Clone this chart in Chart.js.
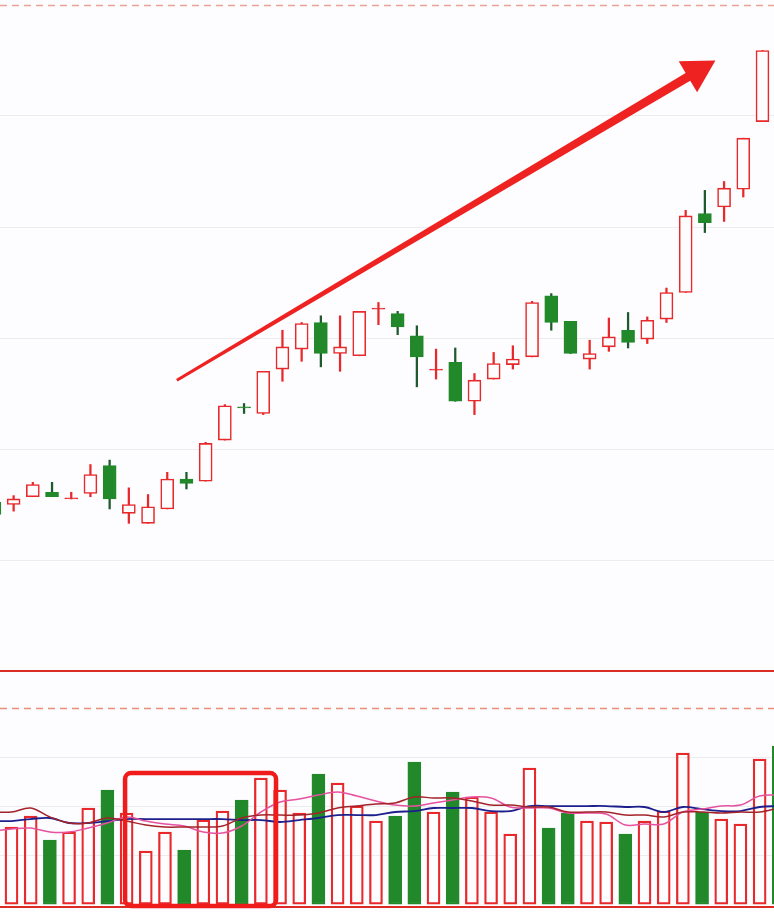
<!DOCTYPE html>
<html>
<head>
<meta charset="utf-8">
<script src="https://cdn.jsdelivr.net/npm/chart.js@4.4.1/dist/chart.umd.min.js"></script>
<style>
  html, body { margin: 0; padding: 0; background: #fdfcfe; }
  #wrap { position: relative; width: 774px; height: 912px; overflow: hidden; }
  canvas { position: absolute; left: 0; }
  #price-chart { top: 0; }
  #volume-chart { top: 676px; }
</style>
</head>
<body>
<div id="wrap">
  <canvas id="price-chart" width="774" height="676"></canvas>
  <canvas id="volume-chart" width="774" height="236"></canvas>
</div>
<script>
// trading sessions (x position of each candle / volume bar)
let days = [0, 1, 2, 3, 4, 5, 6, 7, 8, 9, 10, 11, 12, 13, 14, 15, 16, 17, 18, 19, 20,
  21, 22, 23, 24, 25, 26, 27, 28, 29, 30, 31, 32, 33, 34, 35, 36, 37, 38, 39, 40, 41];

// candles
let openP = [7.52, 7.50, 7.57, 7.61, 7.55, 7.60, 7.85, 7.42, 7.33, 7.46, 7.73, 7.71, 8.08, 8.38,
  8.32, 8.72, 8.90, 9.14, 8.86, 8.84, 9.26, 9.22, 9.02, 8.71, 8.78, 8.43, 8.63, 8.76, 8.83,
  9.38, 9.15, 8.81, 8.92, 9.07, 8.99, 9.17, 9.41, 10.12, 10.18, 10.34, 10.95];
let highP = [7.56, 7.58, 7.70, 7.70, 7.61, 7.86, 7.90, 7.65, 7.59, 7.79, 7.79, 8.06, 8.40, 8.41,
  8.70, 9.07, 9.14, 9.20, 9.20, 9.24, 9.32, 9.24, 9.11, 8.90, 8.91, 8.68, 8.87, 8.93, 9.33,
  9.40, 9.15, 8.98, 9.18, 9.23, 9.19, 9.45, 10.15, 10.33, 10.41, 10.80, 11.59];
let lowP = [7.38, 7.44, 7.57, 7.57, 7.55, 7.57, 7.46, 7.33, 7.33, 7.46, 7.64, 7.71, 8.08, 8.32,
  8.31, 8.61, 8.79, 8.74, 8.70, 8.84, 9.12, 9.03, 8.56, 8.63, 8.43, 8.31, 8.63, 8.72, 8.83,
  9.07, 8.86, 8.72, 8.88, 8.91, 8.95, 9.14, 9.41, 9.95, 10.05, 10.27, 10.95];
let closeP = [7.41, 7.55, 7.68, 7.57, 7.56, 7.77, 7.55, 7.50, 7.48, 7.73, 7.69, 8.05, 8.39, 8.37,
  8.70, 8.92, 9.13, 8.86, 8.92, 9.24, 9.27, 9.10, 8.83, 8.72, 8.43, 8.62, 8.77, 8.81, 9.32,
  9.14, 8.86, 8.86, 9.01, 8.96, 9.16, 9.41, 10.10, 10.04, 10.35, 10.80, 11.59];

// volume + its moving averages
let volume = [null, 7.86, 8.98, 6.53, 7.35, 9.80, 11.63, 9.29, 5.41, 7.35, 5.51, 8.57, 9.49,
  10.61, 12.86, 11.63, 9.29, 13.27, 12.35, 10.00, 8.47, 8.98, 14.49, 9.39, 11.43, 10.92, 9.39,
  7.14, 13.88, 7.76, 9.29, 8.47, 8.37, 7.14, 8.47, 9.49, 15.41, 9.39, 8.67, 8.16, 14.80, 16.12];
let volMa5 = [9.39, 9.39, 9.80, 8.88, 8.27, 8.27, 8.78, 8.47, 8.06, 7.86, 7.86, 7.86, 7.96,
  8.78, 9.08, 9.08, 9.08, 9.29, 9.80, 10.00, 10.20, 10.31, 10.92, 10.82, 10.82, 10.51, 10.10,
  10.10, 9.90, 9.90, 9.39, 9.39, 9.39, 9.08, 9.08, 8.88, 9.39, 9.39, 9.29, 9.39, 9.39, 9.80];
let volMa10 = [7.45, 7.65, 7.76, 7.35, 7.35, 7.76, 8.27, 8.88, 8.47, 8.16, 7.96, 7.35, 7.24,
  7.96, 9.39, 10.41, 10.71, 11.12, 11.43, 11.02, 10.51, 10.10, 10.00, 10.31, 10.61, 10.92,
  10.82, 9.90, 9.80, 9.80, 9.29, 9.29, 9.18, 8.06, 8.16, 8.16, 9.39, 9.69, 10.00, 10.10,
  11.02, 11.12];
let volMa20 = [8.47, 8.47, 8.67, 8.78, 8.27, 8.27, 8.47, 8.67, 8.67, 8.67, 8.67, 8.67, 8.67,
  8.57, 8.57, 8.37, 8.57, 8.78, 9.08, 9.08, 9.08, 9.39, 9.49, 9.80, 9.80, 9.80, 9.49, 9.49,
  10.00, 10.00, 10.00, 10.00, 10.00, 9.90, 9.90, 9.39, 9.90, 9.69, 9.49, 9.49, 9.90, 10.00];

let priceTicks = [7, 8, 9, 10, 11];
let volumeTicks = [5, 10, 15];

const UP = '#e8292b';
const DOWN = '#22892a';
const DOWN_WICK = '#1e5a2c';
const BG = '#fdfcfe';
const GRID = '#ececef';

// the last volume bar has no visible candle -> counts as a down day
const isUp = (i) => closeP[i] >= openP[i];
// doji: body so thin it shows as a plain line, so fill it
const isDoji = (i) => Math.abs(closeP[i] - openP[i]) < 0.02;
let candleDays = days.slice(0, openP.length);

// dashed line on top of a panel, solid red base line
const panelLines = {
  id: 'panelLines',
  afterDatasetsDraw(chart, args, opts) {
    const {ctx, width, scales: {y}} = chart;
    let top = Math.round(y.getPixelForValue(y.max)) + 0.5;
    let bottom = Math.round(y.getPixelForValue(y.min));
    ctx.save();
    ctx.lineWidth = 1.5;
    ctx.strokeStyle = opts.dashColor;
    ctx.setLineDash([7, 5]);
    ctx.beginPath();
    ctx.moveTo(0, top);
    ctx.lineTo(width, top);
    ctx.stroke();
    ctx.setLineDash([]);
    ctx.lineWidth = 2;
    ctx.strokeStyle = opts.baseColor;
    ctx.beginPath();
    ctx.moveTo(0, bottom);
    ctx.lineTo(width, bottom);
    ctx.stroke();
    ctx.restore();
  }
};

// big red trend arrow, ends given in (day, price)
const trendArrow = {
  id: 'trendArrow',
  afterDatasetsDraw(chart) {
    const {ctx, scales: {x, y}} = chart;
    let x0 = x.getPixelForValue(9.5), y0 = y.getPixelForValue(8.62);
    let x1 = x.getPixelForValue(37.55), y1 = y.getPixelForValue(11.5);
    let len = Math.hypot(x1 - x0, y1 - y0);
    let ux = (x1 - x0) / len, uy = (y1 - y0) / len;
    let nx = -uy, ny = ux;
    let headLen = 32, headW = 18;
    let bx = x1 - ux * headLen, by = y1 - uy * headLen;
    ctx.save();
    ctx.fillStyle = '#ee2220';
    ctx.beginPath();
    ctx.moveTo(x0 + nx * 1.5, y0 + ny * 1.5);
    ctx.lineTo(bx + nx * 4.5, by + ny * 4.5);
    ctx.lineTo(bx + nx * headW, by + ny * headW);
    ctx.lineTo(x1, y1);
    ctx.lineTo(bx - nx * headW, by - ny * headW);
    ctx.lineTo(bx - nx * 4.5, by - ny * 4.5);
    ctx.lineTo(x0 - nx * 1.5, y0 - ny * 1.5);
    ctx.closePath();
    ctx.fill();
    ctx.restore();
  }
};

// red box round the low volume days
const volumeBox = {
  id: 'volumeBox',
  afterDatasetsDraw(chart) {
    const {ctx, scales: {x, y}} = chart;
    let left = x.getPixelForValue(6.92), right = x.getPixelForValue(14.79);
    let top = y.getPixelForValue(13.37), bottom = y.getPixelForValue(-0.2);
    ctx.save();
    ctx.strokeStyle = '#f01c1c';
    ctx.lineWidth = 4.5;
    ctx.beginPath();
    ctx.roundRect(left, top, right - left, bottom - top, 6);
    ctx.stroke();
    ctx.restore();
  }
};

let renderPrice = () => {
  new Chart(document.getElementById('price-chart'), {
    type: 'bar',
    data: {
      datasets: [
        {
          label: 'wick',
          data: candleDays.map((d) => ({x: d, y: [lowP[d], highP[d]]})),
          backgroundColor: candleDays.map((d) => isUp(d) ? UP : DOWN_WICK),
          barThickness: 1.6,
          grouped: false,
          order: 2,
        },
        {
          label: 'body',
          data: candleDays.map((d) => ({x: d, y: [openP[d], closeP[d]]})),
          backgroundColor: candleDays.map((d) => isUp(d) ? (isDoji(d) ? UP : BG) : DOWN),
          borderColor: candleDays.map((d) => isUp(d) ? UP : DOWN),
          borderWidth: 1.6,
          borderSkipped: false,
          barThickness: 13,
          grouped: false,
          order: 1,
        },
      ],
    },
    options: {
      responsive: false,
      animation: false,
      layout: {padding: {top: 5, bottom: 5, left: 0, right: 0}},
      plugins: {
        legend: {display: false},
        tooltip: {enabled: false},
        panelLines: {dashColor: '#eba395', baseColor: '#d92d28'},
      },
      scales: {
        x: {type: 'linear', min: 0.29, max: 40.60, offset: false, display: false},
        y: {
          min: 6,
          max: 12,
          afterBuildTicks: (s) => { s.ticks = priceTicks.map((v) => ({value: v})); },
          ticks: {display: false},
          grid: {color: GRID, drawTicks: false},
          border: {display: false},
        },
      },
    },
    plugins: [panelLines, trendArrow],
  });
};

let renderVolume = () => {
  new Chart(document.getElementById('volume-chart'), {
    type: 'bar',
    data: {
      datasets: [
        {
          type: 'line',
          label: 'MA5',
          data: days.map((d) => ({x: d, y: volMa5[d]})),
          borderColor: '#a3232a',
          borderWidth: 1.5,
          pointRadius: 0,
          tension: 0.35,
          order: 0,
        },
        {
          type: 'line',
          label: 'MA10',
          data: days.map((d) => ({x: d, y: volMa10[d]})),
          borderColor: '#e6529f',
          borderWidth: 1.5,
          pointRadius: 0,
          tension: 0.35,
          order: 0,
        },
        {
          type: 'line',
          label: 'MA20',
          data: days.map((d) => ({x: d, y: volMa20[d]})),
          borderColor: '#1c1f8c',
          borderWidth: 1.8,
          pointRadius: 0,
          tension: 0.35,
          order: 0,
        },
        {
          label: 'volume',
          data: days.map((d) => ({x: d, y: volume[d]})),
          backgroundColor: days.map((d) => isUp(d) ? 'rgba(0,0,0,0)' : DOWN),
          borderColor: days.map((d) => isUp(d) ? UP : DOWN),
          borderWidth: 1.6,
          borderSkipped: false,
          barThickness: 13,
          grouped: false,
          order: 1,
        },
      ],
    },
    options: {
      responsive: false,
      animation: false,
      layout: {padding: {top: 32, bottom: 5, left: 0, right: 0}},
      plugins: {
        legend: {display: false},
        tooltip: {enabled: false},
        panelLines: {dashColor: '#ec8e7b', baseColor: '#dc2a26'},
      },
      scales: {
        x: {type: 'linear', min: 0.40, max: 40.75, offset: false, display: false},
        y: {
          min: -0.3,
          max: 20,
          afterBuildTicks: (s) => { s.ticks = volumeTicks.map((v) => ({value: v})); },
          ticks: {display: false},
          grid: {color: GRID, drawTicks: false},
          border: {display: false},
        },
      },
    },
    plugins: [panelLines, volumeBox],
  });
};

renderPrice();
renderVolume();
</script>
</body>
</html>
